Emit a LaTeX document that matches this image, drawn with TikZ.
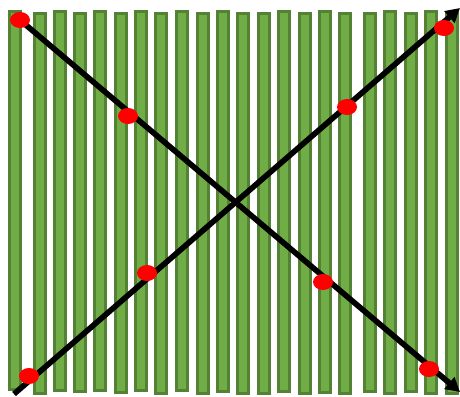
\documentclass[tikz,border=0pt]{standalone}
\usetikzlibrary{arrows.meta,shapes.geometric}
\definecolor{barfill}{HTML}{70AD47}
\definecolor{barline}{HTML}{548235}
\definecolor{dotred}{HTML}{FF0000}
\begin{document}
\begin{tikzpicture}[x=1pt,y=-1pt,
  bar/.style={fill=barfill,draw=barline,line width=2.6pt},
  reddot/.style={ellipse,fill=dotred,minimum width=20pt,minimum height=16pt,inner sep=0pt},
  arrowline/.style={line width=5.6pt,-{Triangle[length=14pt,width=15pt]}}]
\useasboundingbox (0,0) rectangle (460,396);
\foreach \x/\t/\b in {8/10/391,33/12/395,53/10/392,73/12/393,93/10/392,114/12/394,134/10/392,154/12/395,175/10/392,196/12/395,216/10/393,236/12/395,257/12/395,277/10/393,298/12/395,318/10/394,338/12/395,363/12/393,383/10/395,404/12/393,424/10/395,445/12/395}
  \draw[bar] (\x+1.3,\t+1.3) rectangle (\x+12.7,\b-1.3);
\coordinate (s1) at (20,20);
\coordinate (e1) at (460,392);
\coordinate (s2) at (14,394);
\coordinate (e2) at (460,8);
\draw[arrowline] (s1) -- (e1);
\draw[arrowline] (s2) -- (e2);
\node[reddot] (d1) at (20,20) {};
\node[reddot] (d2) at (128,116) {};
\node[reddot] (d3) at (323,282) {};
\node[reddot] (d4) at (429,369) {};
\node[reddot] (d5) at (29,376) {};
\node[reddot] (d6) at (147,273) {};
\node[reddot] (d7) at (347,107) {};
\node[reddot] (d8) at (444,28) {};
\end{tikzpicture}
\end{document}
